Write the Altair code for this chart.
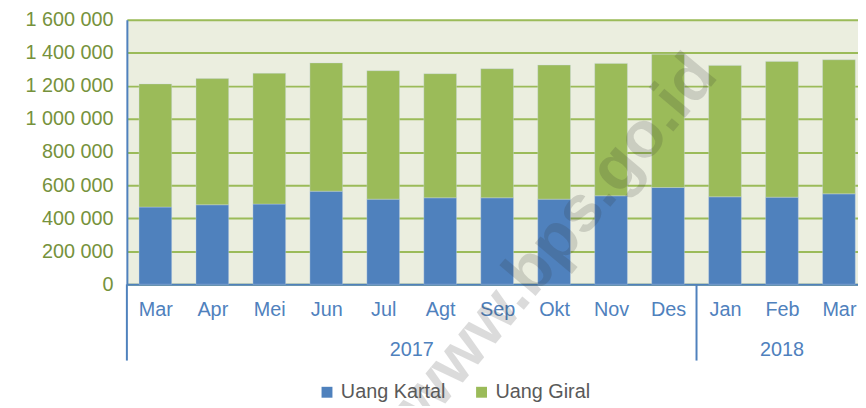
import altair as alt
import pandas as pd

months = ["Mar", "Apr", "Mei", "Jun", "Jul", "Agt", "Sep", "Okt", "Nov", "Des", "Jan", "Feb", "Mar"]
years = ["2017"] * 10 + ["2018"] * 3
uang_kartal = [467000, 481000, 485000, 563000, 515000, 523000, 523000, 515000, 535000, 585000, 529000, 527000, 547000]
total_m1 = [1212000, 1244000, 1276000, 1339000, 1292000, 1274000, 1304000, 1326000, 1336000, 1392000, 1324000, 1348000, 1358000]
uang_giral = [t - k for t, k in zip(total_m1, uang_kartal)]
series = ["Uang Kartal", "Uang Giral"]
colors = ["#4F81BD", "#9BBB59"]
y_ticks = list(range(0, 1600001, 200000))

BLUE = "#4F81BD"
GREEN = "#9BBB59"
OLIVE = "#76923C"
FONT = "Liberation Sans"

rows = []
for i, m in enumerate(months):
    rows.append({"idx": i, "month": m, "year": years[i], "series": series[0], "ord": 0, "value": uang_kartal[i]})
    rows.append({"idx": i, "month": m, "year": years[i], "series": series[1], "ord": 1, "value": uang_giral[i]})
df = pd.DataFrame(rows)

# year groups
year_rows = []
for y in sorted(set(years)):
    ids = [i for i, yy in enumerate(years) if yy == y]
    year_rows.append({"year": y, "mid": sum(ids) / len(ids), "start": min(ids) - 0.5, "end": max(ids) + 0.5})
ydf = pd.DataFrame(year_rows)
sep_df = pd.DataFrame({"pos": sorted(set(ydf["start"]))})

n = len(months)
W = 738
H = 267
STEP = 57.5
x_max = -0.5 + W / STEP  # the last category is cut at the right edge, as in the original
xscale = alt.Scale(domain=[-0.5, x_max], nice=False, zero=False, padding=0)
yscale = alt.Scale(domain=[0, 1600000], nice=False)

month_expr = "[" + ",".join("'%s'" % m for m in months) + "][datum.value]"

bars = alt.Chart(df).mark_bar(size=33, stroke="#C9D6E8", strokeWidth=0.6, strokeOpacity=0.6).encode(
    x=alt.X("idx:Q", scale=xscale,
            axis=alt.Axis(values=list(range(n)), labelExpr=month_expr, title=None, grid=False,
                          ticks=False, domainColor=BLUE, domainWidth=2, labelColor=BLUE,
                          labelFont=FONT, labelFontSize=20, labelPadding=16, labelFlush=False,
                          labelOverlap=False)),
    y=alt.Y("value:Q", scale=yscale, stack="zero",
            axis=alt.Axis(values=y_ticks, title=None, ticks=False, domainColor=BLUE, domainWidth=2,
                          gridColor=GREEN, gridWidth=2, labelColor=OLIVE, labelFont=FONT,
                          labelFontSize=20, labelPadding=14,
                          labelExpr="replace(format(datum.value, ','), regexp(',', 'g'), ' ')")),
    color=alt.Color("series:N", scale=alt.Scale(domain=series, range=colors),
                    legend=alt.Legend(title=None, orient="none", direction="horizontal",
                                      legendX=192, legendY=366, symbolType="square", symbolSize=121,
                                      symbolStrokeWidth=0, labelFont=FONT, labelFontSize=20,
                                      labelColor="#595959", columnPadding=26, labelOffset=4)),
    order=alt.Order("ord:Q", sort="ascending"),
)

seps = alt.Chart(sep_df).mark_rule(color=BLUE, strokeWidth=2, clip=False).encode(
    x=alt.X("pos:Q", scale=xscale),
    y=alt.value(H),
    y2=alt.value(H + 77),
)

year_text = alt.Chart(ydf).mark_text(color=BLUE, font=FONT, fontSize=20, baseline="middle", clip=False).encode(
    x=alt.X("mid:Q", scale=xscale),
    y=alt.value(H + 66),
    text="year:N",
)

watermark = alt.Chart(pd.DataFrame({"t": ["www.bps.go.id"]})).mark_text(
    font=FONT, fontSize=66, fontWeight="bold", color="#303030", opacity=0.17,
    angle=310, align="center", baseline="middle", clip=False
).encode(x=alt.value(434), y=alt.value(222), text="t:N")

chart = alt.layer(bars, seps, year_text, watermark).properties(
    width=W, height=H,
    autosize=alt.AutoSizeParams(type="none"),
    padding={"left": 120, "top": 10, "right": 0, "bottom": 121},
).configure_view(fill="#EBEEDF", stroke=None)

chart.save("out.html", embed_options={"renderer": "svg", "actions": False})
